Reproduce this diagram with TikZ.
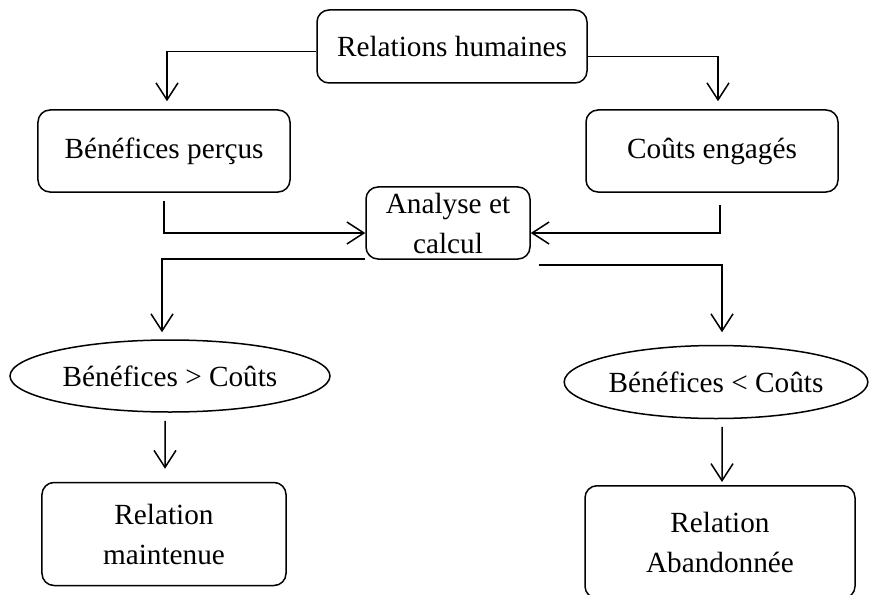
\documentclass[tikz,border=0pt]{standalone}
\usepackage{fontspec}
\setmainfont{Liberation Serif}
\usetikzlibrary{arrows.meta,shapes.geometric}

\begin{document}
\begin{tikzpicture}[
  x=0.4pt, y=0.4pt,
  txt/.style={font=\fontsize{11.7}{16}\selectfont, align=center, inner sep=0pt},
  box/.style={txt, rectangle, rounded corners=4.8pt, draw, line width=0.6pt},
  oval/.style={txt, ellipse, draw, line width=0.6pt},
  arr/.style={line width=0.6pt, -{Straight Barb[length=6.8pt,width=8.8pt]}},
]
\useasboundingbox (0,0) rectangle (871,594);
\clip (0,0) rectangle (871,594);

% Top
\node[box, minimum width=108pt, minimum height=29.2pt] (rh) at (452, 547.5) {Relations humaines};

% Benefits and costs
\node[box, minimum width=100.8pt, minimum height=32.8pt] (bp) at (164, 443) {Bénéfices perçus};
\node[box, minimum width=100.8pt, minimum height=32.8pt] (ce) at (712, 443) {Coûts engagés};

% Analysis
\node[box, minimum width=65.6pt, minimum height=28.8pt] (an) at (448, 371) {Analyse et\\calcul};

% Comparison
\node[oval, minimum width=128pt, minimum height=28.8pt] (gt) at (170, 218) {Bénéfices > Coûts};
\node[oval, minimum width=121.2pt, minimum height=29.2pt] (lt) at (716, 212) {Bénéfices < Coûts};

% Outcomes
\node[box, minimum width=97.6pt, minimum height=41.2pt] (rm) at (164, 60) {Relation\\maintenue};
\node[box, minimum width=108pt, minimum height=45pt] (ra) at (720, 52) {Relation\\Abandonnée};

% Connectors
\draw[arr, shorten >=3.2pt] ([yshift=-2pt]rh.west) -| ([xshift=1.2pt]bp.north);
\draw[arr, shorten >=3.2pt] ([yshift=-4pt]rh.east) -| ([xshift=2.4pt]ce.north);
\draw[arr, shorten <=3.2pt] (bp.south) |- ([yshift=-4pt]an.west);
\draw[arr, shorten <=5pt] ([xshift=3.2pt]ce.south) |- ([yshift=-4pt]an.east);
\draw[arr, shorten >=2.8pt] ([yshift=0.4pt]an.south west) -| ([xshift=-3.2pt]gt.north);
\draw[arr, shorten >=5pt] ([xshift=3.2pt,yshift=-2pt]an.south east) -| ([xshift=2.4pt]lt.north);
\draw[arr, shorten <=3.2pt, shorten >=5.2pt] ([xshift=-2pt]gt.south) -- ([xshift=0.4pt]rm.north);
\draw[arr, shorten <=3pt, shorten >=1.2pt] ([xshift=2.4pt]lt.south) -- ([xshift=0.8pt]ra.north);

\end{tikzpicture}
\end{document}
